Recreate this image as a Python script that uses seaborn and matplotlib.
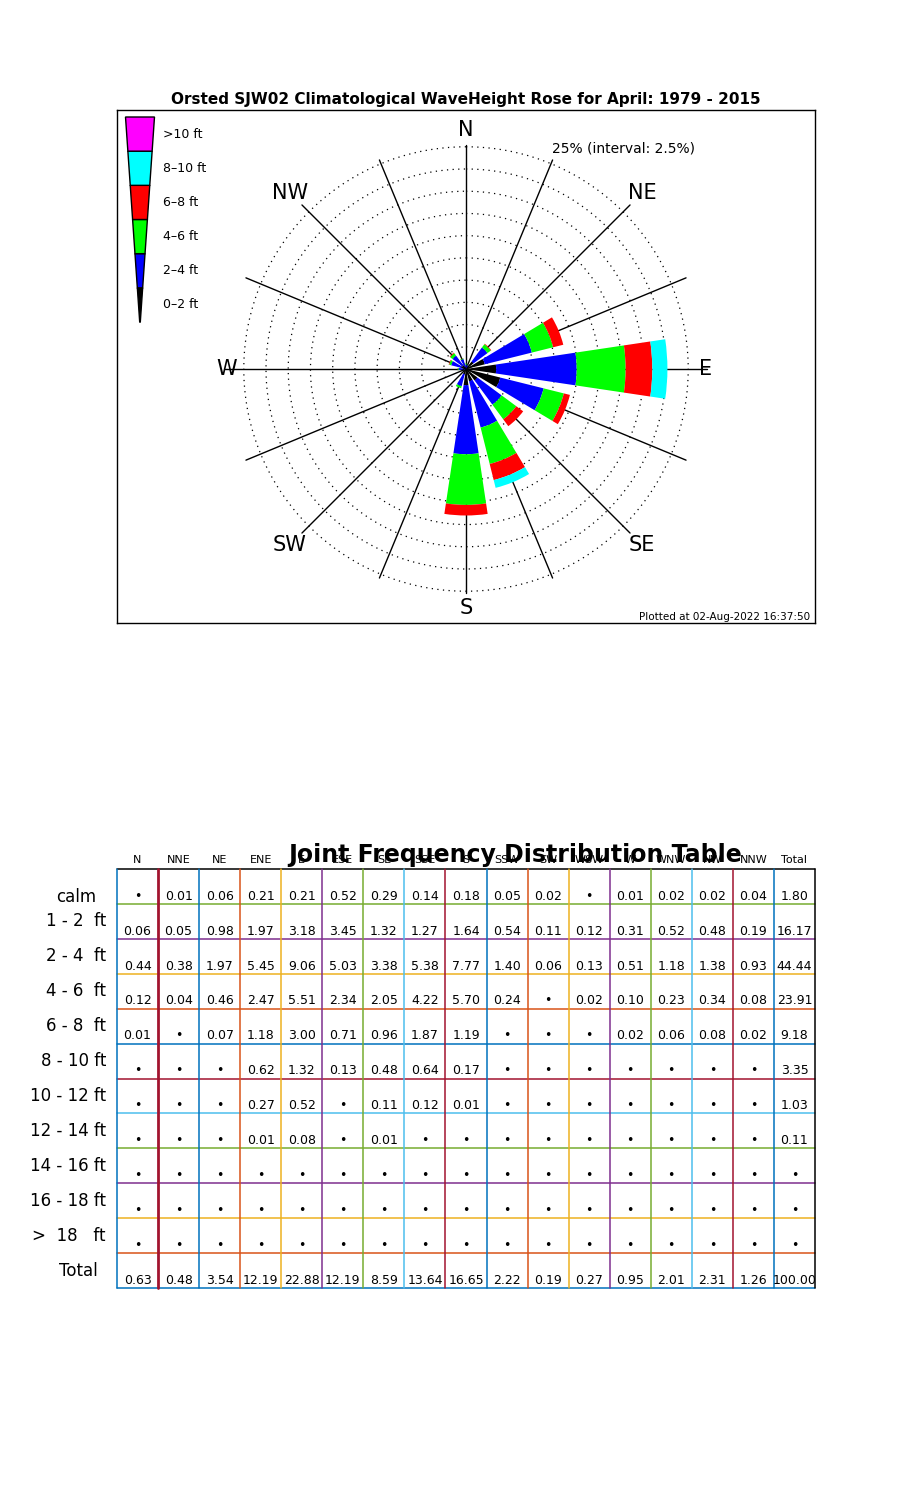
import numpy as np
import matplotlib
matplotlib.use('Agg')
import matplotlib.pyplot as plt
from matplotlib.colors import ListedColormap
from matplotlib.patches import Polygon
import seaborn as sns

sns.set_style("white")
plt.rcParams['font.family'] = ['DejaVu Sans']
plt.rcParams['text.color'] = 'black'

# ---- data ----
directions = ['N', 'NNE', 'NE', 'ENE', 'E', 'ESE', 'SE', 'SSE',
              'S', 'SSW', 'SW', 'WSW', 'W', 'WNW', 'NW', 'NNW']
dir_angles = np.arange(16) * 22.5

# rose segments (% of time)
rose_0_2 = [0.06, 0.06, 1.04, 2.18, 3.39, 3.97, 1.61, 1.41, 1.82, 0.59, 0.13, 0.12, 0.32, 0.54, 0.50, 0.23]
rose_2_4 = [0.44, 0.38, 1.97, 5.45, 9.06, 5.03, 3.38, 5.38, 7.77, 1.40, 0.06, 0.13, 0.51, 1.18, 1.38, 0.93]
rose_4_6 = [0.12, 0.04, 0.46, 2.47, 5.51, 2.34, 2.05, 4.22, 5.70, 0.24, 0.00, 0.02, 0.10, 0.23, 0.34, 0.08]
rose_6_8 = [0.01, 0.00, 0.07, 1.18, 3.00, 0.71, 0.96, 1.87, 1.19, 0.00, 0.00, 0.00, 0.02, 0.06, 0.08, 0.02]
rose_8_10 = [0, 0, 0, 0, 1.70, 0, 0, 0.90, 0, 0, 0, 0, 0, 0, 0, 0]
rose_gt10 = [0] * 16
rose_bins = ['0-2 ft', '2-4 ft', '4-6 ft', '6-8 ft', '8-10 ft', '>10 ft']
rose_colors = ['black', '#0000ff', '#00ff00', '#ff0000', '#00ffff', '#ff00ff']

# joint frequency table
row_labels = ['calm', '1 - 2  ft', '2 - 4  ft', '4 - 6  ft', '6 - 8  ft', '8 - 10 ft',
              '10 - 12 ft', '12 - 14 ft', '14 - 16 ft', '16 - 18 ft', '>  18   ft', 'Total']
col_labels = directions + ['Total']
t_calm = [0, 0.01, 0.06, 0.21, 0.21, 0.52, 0.29, 0.14, 0.18, 0.05, 0.02, 0, 0.01, 0.02, 0.02, 0.04, 1.80]
t_1_2 = [0.06, 0.05, 0.98, 1.97, 3.18, 3.45, 1.32, 1.27, 1.64, 0.54, 0.11, 0.12, 0.31, 0.52, 0.48, 0.19, 16.17]
t_2_4 = [0.44, 0.38, 1.97, 5.45, 9.06, 5.03, 3.38, 5.38, 7.77, 1.40, 0.06, 0.13, 0.51, 1.18, 1.38, 0.93, 44.44]
t_4_6 = [0.12, 0.04, 0.46, 2.47, 5.51, 2.34, 2.05, 4.22, 5.70, 0.24, 0, 0.02, 0.10, 0.23, 0.34, 0.08, 23.91]
t_6_8 = [0.01, 0, 0.07, 1.18, 3.00, 0.71, 0.96, 1.87, 1.19, 0, 0, 0, 0.02, 0.06, 0.08, 0.02, 9.18]
t_8_10 = [0, 0, 0, 0.62, 1.32, 0.13, 0.48, 0.64, 0.17, 0, 0, 0, 0, 0, 0, 0, 3.35]
t_10_12 = [0, 0, 0, 0.27, 0.52, 0, 0.11, 0.12, 0.01, 0, 0, 0, 0, 0, 0, 0, 1.03]
t_12_14 = [0, 0, 0, 0.01, 0.08, 0, 0.01, 0, 0, 0, 0, 0, 0, 0, 0, 0, 0.11]
t_14_16 = [0] * 17
t_16_18 = [0] * 17
t_gt18 = [0] * 17
t_total = [0.63, 0.48, 3.54, 12.19, 22.88, 12.19, 8.59, 13.64, 16.65, 2.22, 0.19, 0.27, 0.95, 2.01, 2.31, 1.26, 100.00]
table = np.array([t_calm, t_1_2, t_2_4, t_4_6, t_6_8, t_8_10, t_10_12,
                  t_12_14, t_14_16, t_16_18, t_gt18, t_total])

fig = plt.figure(figsize=(9, 15), dpi=100)

# ---- rose frame (box coords in pixels, origin top-left of box) ----
fx0, fy0, fx1, fy1 = 117, 110, 815, 623
frame = fig.add_axes([fx0 / 900, 1 - fy1 / 1500, (fx1 - fx0) / 900, (fy1 - fy0) / 1500])
frame.set_xlim(0, fx1 - fx0)
frame.set_ylim(fy1 - fy0, 0)
frame.set_xticks([])
frame.set_yticks([])
for s in frame.spines.values():
    s.set_color('black')
    s.set_linewidth(1)
frame.text(349, -10, 'Orsted SJW02 Climatological WaveHeight Rose for April: 1979 - 2015',
           ha='center', va='center', fontsize=11, fontweight='bold')
frame.text(693, 507, 'Plotted at 02-Aug-2022 16:37:50', ha='right', va='center', fontsize=7.5)

# tapered legend
seg_edges = np.linspace(7, 212, 7)
half_w = np.linspace(14.5, 0.3, 7)
cx = 23
for k in range(6):
    top, bot = seg_edges[5 - k], seg_edges[6 - k]
    wt, wb = half_w[5 - k], half_w[6 - k]
    poly = Polygon([[cx - wt, top], [cx + wt, top], [cx + wb, bot], [cx - wb, bot]],
                   closed=True, facecolor=rose_colors[k], edgecolor='black', lw=1)
    frame.add_patch(poly)
    frame.text(46, (top + bot) / 2, rose_bins[k].replace('-', '–'), ha='left', va='center', fontsize=9)

# ---- polar rose ----
rmax = 27
rad_px = 240
cxp, cyp = 466, 369
pax = fig.add_axes([(cxp - rad_px) / 900, 1 - (cyp + rad_px) / 1500, 2 * rad_px / 900, 2 * rad_px / 1500],
                   projection='polar')
pax.set_theta_zero_location('N')
pax.set_theta_direction(-1)
pax.set_ylim(0, rmax)
pax.grid(False)
pax.set_xticks([])
pax.set_yticks([])
pax.spines['polar'].set_visible(False)
pax.patch.set_alpha(0)

tt = np.linspace(0, 2 * np.pi, 400)
for r in np.arange(2.5, 25.01, 2.5):
    pax.plot(tt, np.full_like(tt, r), ls=(0, (1, 3.5)), color='black', lw=0.9, clip_on=False)

ax_x, ax_y = 27.1, 25.2
for a in dir_angles:
    th = np.deg2rad(a)
    rr = 1 / np.sqrt((np.sin(th) / ax_x) ** 2 + (np.cos(th) / ax_y) ** 2)
    pax.plot([th, th], [0, rr], color='black', lw=1, clip_on=False)

theta = np.deg2rad(dir_angles)
width = np.deg2rad(17)
bottom = np.zeros(16)
for vals, col in zip([rose_0_2, rose_2_4, rose_4_6, rose_6_8, rose_8_10, rose_gt10], rose_colors):
    v = np.array(vals, dtype=float)
    pax.bar(theta, v, width=width, bottom=bottom, color=col, linewidth=0, zorder=3)
    bottom = bottom + v

for lab, a in zip(directions, dir_angles):
    if lab in ('N', 'E', 'S', 'W'):
        pax.text(np.deg2rad(a), 26.9, lab, ha='center', va='center', fontsize=15)
    elif lab in ('NE', 'SE', 'SW', 'NW'):
        pax.text(np.deg2rad(a), 28.0, lab, ha='center', va='center', fontsize=15)
pax.text(np.deg2rad(21.3), 26.6, '25% (interval: 2.5%)', ha='left', va='center', fontsize=10)

# ---- table ----
tx0, ty0, tx1, ty1 = 117, 869, 815, 1288
tax = fig.add_axes([tx0 / 900, 1 - ty1 / 1500, (tx1 - tx0) / 900, (ty1 - ty0) / 1500])
sns.heatmap(np.zeros_like(table), cmap=ListedColormap(['white']), cbar=False,
            xticklabels=False, yticklabels=False, linewidths=0, ax=tax)
for s in tax.spines.values():
    s.set_visible(False)

mcol = ['#0072BD', '#D95319', '#EDB120', '#7E2F8E', '#77AC30', '#4DBEEE', '#A2142F']
nrow, ncol = table.shape
for i in range(1, nrow + 1):
    tax.axhline(i, color=mcol[(5 - i) % 7], lw=1.1, clip_on=False, zorder=2)
tax.axhline(0, color='black', lw=1.1, clip_on=False, zorder=2)
tax.axvline(0, color=mcol[0], lw=1.1, clip_on=False, zorder=3)
for k in range(1, ncol):
    tax.axvline(k, color=mcol[(k + 5) % 7], lw=2 if k == 1 else 1.1, clip_on=False, zorder=3)
tax.axvline(ncol, color='black', lw=1.1, clip_on=False, zorder=3)

for i in range(nrow):
    for j in range(ncol):
        v = table[i, j]
        s = '•' if v == 0 else f'{v:.2f}'
        tax.text(j + 0.5, i + 0.78, s, ha='center', va='center', fontsize=9)

for j, lab in enumerate(col_labels):
    tax.text(j + 0.5, -0.25, lab, ha='center', va='center', fontsize=8)

for i, lab in enumerate(row_labels):
    if lab == 'calm':
        tax.text(-1.0, i + 0.79, lab, ha='center', va='center', fontsize=12)
    elif lab == 'Total':
        tax.text(-0.93, i + 0.5, lab, ha='center', va='center', fontsize=12)
    else:
        tax.text(-0.27, i + 0.5, lab, ha='right', va='center', fontsize=12)

fig.text(515 / 900, 1 - 855 / 1500, 'Joint Frequency Distribution Table',
         ha='center', va='center', fontsize=17, fontweight='bold')

fig.savefig('out.png', dpi=100)
